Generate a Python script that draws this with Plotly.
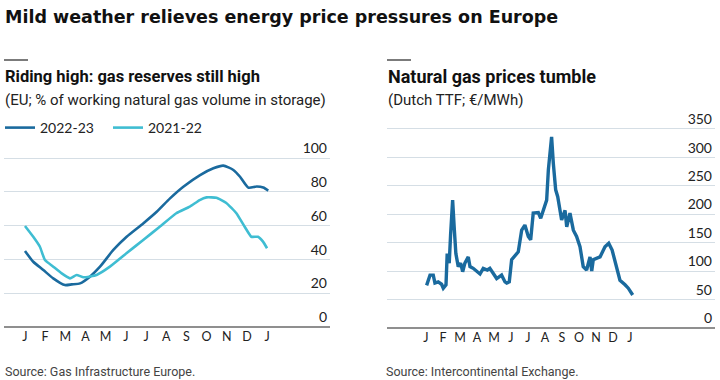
import plotly.graph_objects as go

# ---------------- data ----------------
month_letters = ["J", "F", "M", "A", "M", "J", "J", "A", "S", "O", "N", "D", "J"]
month_ticks = list(range(13))

# Left: EU gas storage, % of working volume (x = months since Jan 1)
storage_2223_month = [0.0, 0.41, 0.91, 1.40, 1.98, 2.32, 2.73, 3.22, 3.72, 4.38, 5.04, 5.86,
                      6.53, 7.19, 7.85, 8.68, 9.34, 9.83, 10.33, 10.66, 11.07, 11.49, 11.81, 12.06]
storage_2223_pct = [45, 38.6, 33.7, 28.8, 24.8, 25.2, 25.8, 29.8, 35.7, 45.6, 53.4, 61.3,
                    68.2, 76.1, 83.0, 89.9, 93.9, 95.5, 92.9, 88.9, 82.5, 83.1, 82.5, 80.7]

storage_2122_month = [0.0, 0.41, 0.74, 0.99, 1.40, 1.82, 2.23, 2.56, 2.90, 3.55, 4.21, 5.03,
                      5.86, 6.68, 7.50, 8.17, 8.66, 9.00, 9.49, 9.98, 10.48, 10.89, 11.22,
                      11.55, 11.80, 12.0]
storage_2122_pct = [59.8, 53.4, 47.5, 39.6, 35.7, 31.7, 28.8, 30.8, 29.4, 30.8, 35.7, 43.6,
                    51.5, 59.3, 67.3, 71.2, 75.1, 76.7, 76.5, 73.4, 67.3, 59.3, 53.4,
                    53.4, 50.5, 46.6]

# Right: Dutch TTF price, EUR/MWh (x = months since Jan 1 2022)
ttf_month = [0.04, 0.24, 0.43, 0.53, 0.72, 0.92, 1.02, 1.18, 1.25, 1.37, 1.45, 1.57, 1.66,
             1.76, 1.90, 2.04, 2.16, 2.29, 2.49, 2.59, 2.78, 2.98, 3.18, 3.37, 3.61, 3.76,
             3.96, 4.16, 4.45, 4.65, 4.75, 4.90, 5.04, 5.24, 5.43, 5.63, 5.82, 6.02, 6.16,
             6.31, 6.61, 6.75, 6.90, 7.10, 7.20, 7.29, 7.39, 7.49, 7.63, 7.75, 7.98, 8.18,
             8.28, 8.47, 8.67, 8.86, 9.06, 9.25, 9.45, 9.65, 9.75, 9.84, 10.04, 10.24,
             10.53, 10.75, 10.95, 11.22, 11.41, 11.71, 11.90, 12.16]
ttf_price = [75, 93, 93, 79, 81, 77, 70, 76, 131, 114, 164, 225, 178,
             131, 108, 114, 99, 114, 125, 108, 105, 99, 95, 105, 102, 105,
             96, 87, 93, 81, 79, 81, 120, 128, 134, 172, 181, 161, 155,
             202, 203, 193, 207, 225, 278, 301, 336, 290, 243, 231, 190, 207,
             178, 202, 172, 161, 143, 108, 102, 125, 100, 120, 123, 125,
             143, 149, 137, 108, 84, 76, 70, 58]

storage_ticks = [0, 20, 40, 60, 80, 100]
price_ticks = [0, 50, 100, 150, 200, 250, 300, 350]

# ---------------- styling ----------------
W, H = 720, 380
DARK = "#1a6a9e"
LIGHT = "#3fbdd2"
GRID = "#d5dee5"
BASE = "#8f8f8f"
TXT = "#222222"

def px_x(x):
    return x / W

def px_y(y):
    return (H - y) / H

fig = go.Figure()

fig.add_trace(go.Scatter(x=storage_2223_month, y=storage_2223_pct, mode="lines",
                         name="2022-23", line=dict(color=DARK, width=2.6, shape="spline", smoothing=0.6),
                         xaxis="x", yaxis="y"))
fig.add_trace(go.Scatter(x=storage_2122_month, y=storage_2122_pct, mode="lines",
                         name="2021-22", line=dict(color=LIGHT, width=2.6, shape="spline", smoothing=0.4),
                         xaxis="x", yaxis="y"))
fig.add_trace(go.Scatter(x=ttf_month, y=ttf_price, mode="lines", showlegend=False,
                         line=dict(color=DARK, width=3.4), xaxis="x2", yaxis="y2"))

tickfont_y = dict(family="Lato, Roboto, sans-serif", size=14, color=TXT)
tickfont_x = dict(family="Lato, Roboto, sans-serif", size=12.5, color=TXT)

common_y = dict(side="right", ticks="", showline=False, showgrid=True, gridcolor=GRID,
                gridwidth=1.2, zeroline=True, zerolinecolor=BASE, zerolinewidth=1.6,
                ticklabelposition="inside top", tickfont=tickfont_y, fixedrange=True)
common_x = dict(ticks="", showline=False, showgrid=False, zeroline=False,
                tickvals=month_ticks, ticktext=month_letters, tickfont=tickfont_x,
                fixedrange=True)

# left: 0 at y=327px, 100 at y=158px (1.69 px per point)
# right: 0 at y=328px, 350 at y=129px (0.5686 px per EUR)
l_top_val = 120
r_top_val = 400
l_top_px = 327 - l_top_val * 1.69
r_top_px = 328 - r_top_val * 0.5686

fig.update_layout(
    width=W, height=H, margin=dict(l=0, r=0, t=0, b=0),
    paper_bgcolor="white", plot_bgcolor="white",
    xaxis=dict(domain=[px_x(4), px_x(330)], range=[-1.04, 15.12], anchor="y", **common_x),
    yaxis=dict(domain=[px_y(327), px_y(l_top_px)], range=[0, l_top_val], anchor="x",
               tickvals=storage_ticks, **common_y),
    xaxis2=dict(domain=[px_x(387), px_x(715)], range=[-2.29, 17.0], anchor="y2", **common_x),
    yaxis2=dict(domain=[px_y(328), px_y(r_top_px)], range=[0, r_top_val], anchor="x2",
                tickvals=price_ticks, **common_y),
    legend=dict(orientation="h", x=px_x(0), y=px_y(128), xanchor="left", yanchor="middle",
                font=dict(family="Lato, Roboto, sans-serif", size=14, color=TXT),
                entrywidth=63, itemwidth=30, bgcolor="rgba(0,0,0,0)"),
    showlegend=True,
)

title_font = dict(family="DejaVu Sans, sans-serif", size=17.5, color="#111111")
sub_font = dict(family="Liberation Sans Narrow, Roboto, sans-serif", size=16.5, color="#111111")
sub_font_r = dict(family="Liberation Sans Narrow, Roboto, sans-serif", size=18, color="#111111")
sub2_font = dict(family="Liberation Sans Narrow, Roboto, sans-serif", size=15, color="#222222")
src_font = dict(family="Liberation Sans Narrow, Roboto, sans-serif", size=12.5, color="#444444")

annos = [
    ("<b>Mild weather relieves energy price pressures on Europe</b>", 3, 17, title_font),
    ("<b>Riding high: gas reserves still high</b>", 3, 77, sub_font),
    ("(EU; % of working natural gas volume in storage)", 3, 100, sub2_font),
    ("<b>Natural gas prices tumble</b>", 386, 77, sub_font_r),
    ("(Dutch TTF; €/MWh)", 386, 100, sub2_font),
    ("Source: Gas Infrastructure Europe.", 3, 371, src_font),
    ("Source: Intercontinental Exchange.", 384, 371, src_font),
]
for text, x, y, f in annos:
    fig.add_annotation(text=text, x=px_x(x), y=px_y(y), xref="paper", yref="paper",
                       xanchor="left", yanchor="middle", showarrow=False, font=f)

for x0 in (4, 387):
    fig.add_shape(type="line", xref="paper", yref="paper",
                  x0=px_x(x0), x1=px_x(x0 + 24), y0=px_y(60), y1=px_y(60),
                  line=dict(color="#333333", width=1.3))

fig.write_html("out.html", config={"displayModeBar": False},
               post_script="document.body.style.margin='0px';document.body.style.overflow='hidden';")
